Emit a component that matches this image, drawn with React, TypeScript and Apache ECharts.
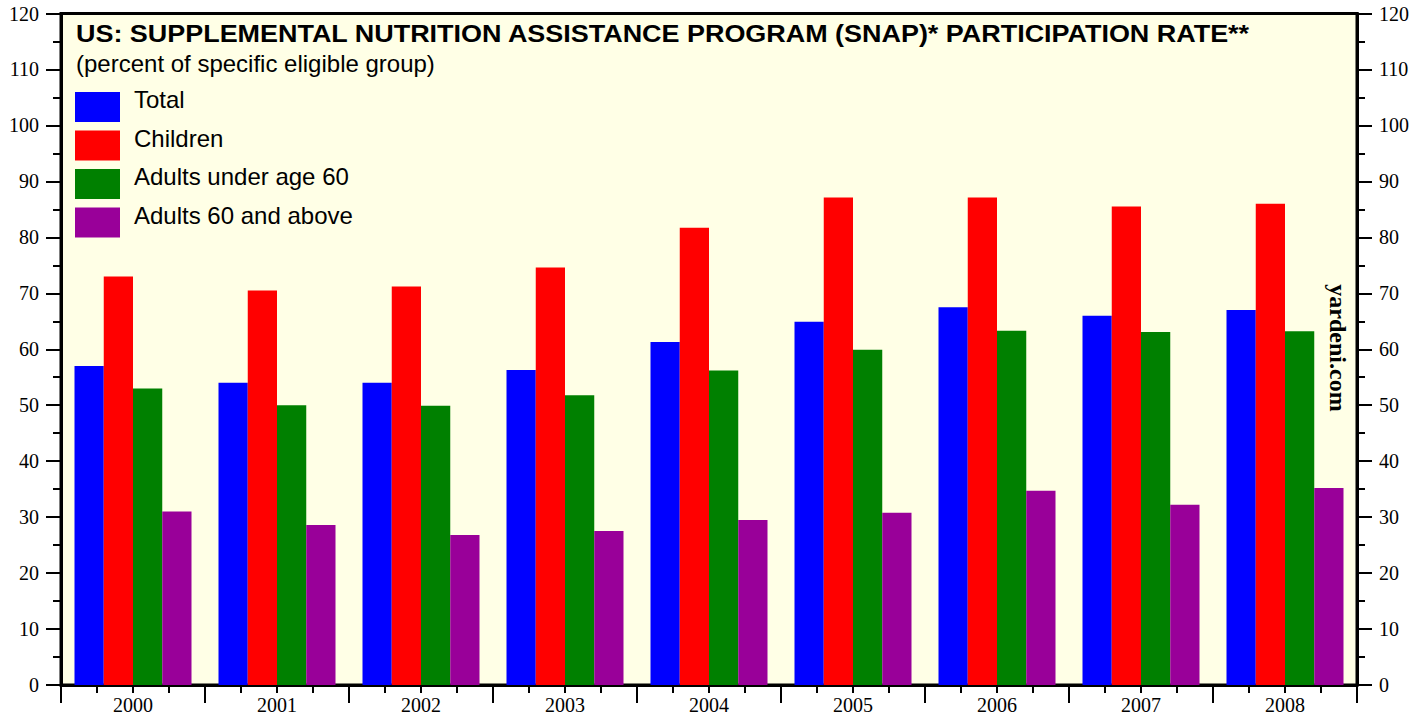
import React, { useEffect, useRef } from "react";
import * as echarts from "echarts";

const years = ["2000", "2001", "2002", "2003", "2004", "2005", "2006", "2007", "2008"];
const seriesNames = ["Total", "Children", "Adults under age 60", "Adults 60 and above"];
const total = [57, 54, 54, 56.3, 61.3, 64.9, 67.5, 66, 67];
const children = [73, 70.5, 71.2, 74.6, 81.7, 87.1, 87.1, 85.5, 86];
const adultsUnder60 = [53, 50, 49.9, 51.8, 56.2, 59.9, 63.3, 63.1, 63.2];
const adults60Plus = [31, 28.6, 26.8, 27.5, 29.5, 30.8, 34.7, 32.2, 35.2];
const colors = ["#0000FF", "#FF0000", "#008000", "#990099"];
const titleText = "US: SUPPLEMENTAL NUTRITION ASSISTANCE PROGRAM (SNAP)* PARTICIPATION RATE**";
const subtitleText = "(percent of specific eligible group)";
const watermark = "yardeni.com";

const SERIF = '"Liberation Serif", "Times New Roman", serif';
const SANS = '"Liberation Sans", Arial, sans-serif';

export default function App() {
  const ref = useRef<HTMLDivElement>(null);
  useEffect(() => {
    if (!ref.current) return;
    const chart = echarts.init(ref.current, null, { renderer: "svg" });
    const values = [total, children, adultsUnder60, adults60Plus];

    const legendGraphics: any[] = [];
    seriesNames.forEach((name, i) => {
      const top = 92 + i * 38.5;
      legendGraphics.push({
        type: "rect",
        shape: { x: 75, y: top, width: 45, height: 30 },
        style: { fill: colors[i] },
        z: 10,
      });
      legendGraphics.push({
        type: "text",
        x: 134,
        y: top + 7.5,
        style: {
          text: name,
          font: `24px ${SANS}`,
          fill: "#000",
          textVerticalAlign: "middle",
        },
        z: 10,
      });
    });

    const yAxisCommon = {
      type: "value",
      min: 0,
      max: 120,
      interval: 10,
      axisLine: { show: true, lineStyle: { color: "#000", width: 3 } },
      axisTick: { show: true, length: 15, lineStyle: { color: "#000", width: 2 } },
      minorTick: { show: true, splitNumber: 2, length: 8, lineStyle: { color: "#000", width: 2 } },
      splitLine: { show: false },
      axisLabel: { color: "#000", fontFamily: SERIF, fontSize: 20, margin: 22 },
    };

    chart.setOption({
      animation: false,
      backgroundColor: "#FFFFFF",
      grid: {
        left: 61,
        right: 70,
        top: 13.5,
        bottom: 34,
        show: true,
        backgroundColor: "#FFFFE6",
        borderColor: "#000",
        borderWidth: 3,
      },
      xAxis: [
        {
          type: "category",
          data: years,
          position: "bottom",
          axisLine: { show: false },
          axisTick: { show: false },
          axisLabel: { color: "#000", fontFamily: SERIF, fontSize: 20, margin: 10 },
          splitLine: { show: false },
        },
        {
          type: "value",
          min: 0,
          max: years.length,
          interval: 1,
          position: "bottom",
          axisLine: { show: true, lineStyle: { color: "#000", width: 3 } },
          axisTick: { show: true, length: 18, lineStyle: { color: "#000", width: 2 } },
          minorTick: { show: true, splitNumber: 4, length: 8, lineStyle: { color: "#000", width: 2 } },
          axisLabel: { show: false },
          splitLine: { show: false },
        },
      ],
      yAxis: [
        { ...yAxisCommon, position: "left" },
        { ...yAxisCommon, position: "right" },
      ],
      series: seriesNames.map((name, i) => ({
        name,
        type: "bar",
        xAxisIndex: 0,
        yAxisIndex: 0,
        data: values[i],
        barGap: "0%",
        barCategoryGap: "18.75%",
        itemStyle: { color: colors[i] },
      })),
      graphic: [
        {
          type: "text",
          x: 76,
          y: 33.7,
          scaleX: 1.123,
          style: {
            text: titleText,
            font: `bold 24px ${SANS}`,
            fill: "#000",
            textVerticalAlign: "middle",
          },
          z: 10,
        },
        {
          type: "text",
          x: 76,
          y: 63,
          style: {
            text: subtitleText,
            font: `24px ${SANS}`,
            fill: "#000",
            textVerticalAlign: "middle",
          },
          z: 10,
        },
        ...legendGraphics,
        {
          type: "text",
          x: 1338,
          y: 348,
          rotation: -Math.PI / 2,
          style: {
            text: watermark,
            font: `bold 24px ${SERIF}`,
            fill: "#000",
            textAlign: "center",
            textVerticalAlign: "middle",
          },
          z: 10,
        },
      ],
    });
    return () => chart.dispose();
  }, []);
  return (
    <div
      ref={ref}
      style={{ position: "fixed", left: 0, top: 0, width: 1427, height: 719 }}
    />
  );
}
